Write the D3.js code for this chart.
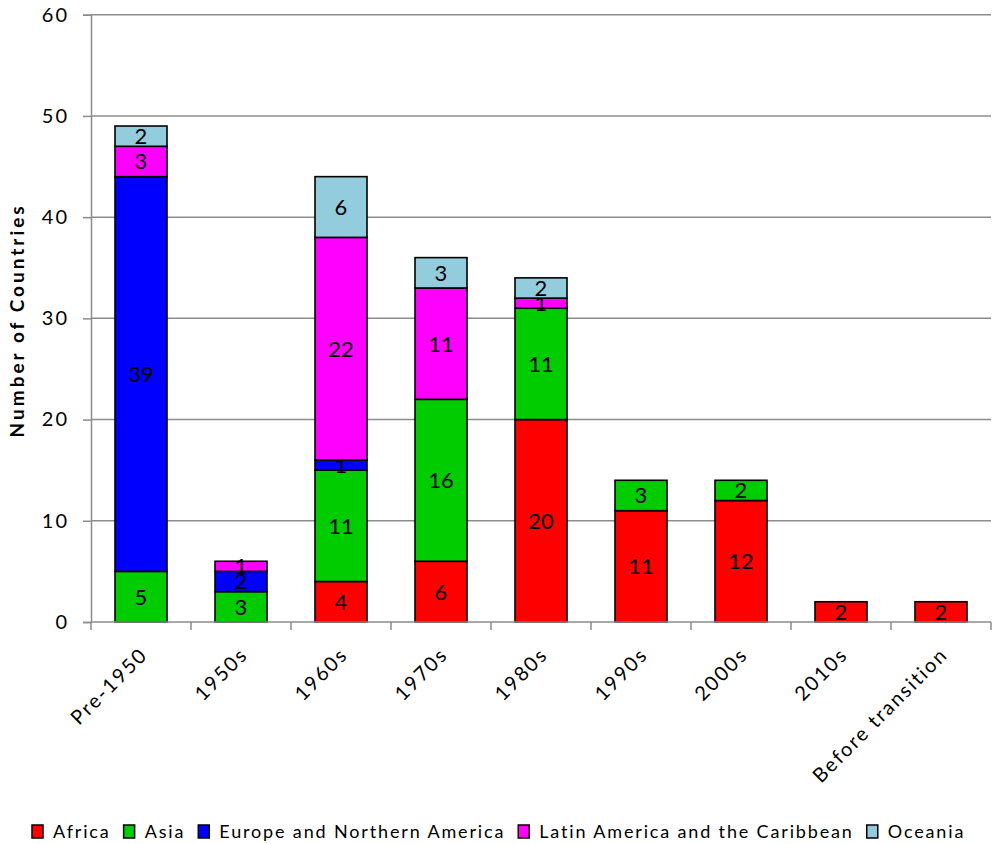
<!DOCTYPE html>
<html>
<head>
<meta charset="utf-8">
<script src="https://cdn.jsdelivr.net/npm/d3@7"></script>
<style>
  html, body { margin: 0; padding: 0; background: #fff; }
  svg { display: block; font-family: Lato, "Open Sans", sans-serif; }
</style>
</head>
<body>
<svg id="chart" width="997" height="844"></svg>
<script>
// Transition period categories
const categories = ["Pre-1950", "1950s", "1960s", "1970s", "1980s", "1990s", "2000s", "2010s", "Before transition"];
// Regions (stack order, bottom to top)
const regions = ["Africa", "Asia", "Europe and Northern America", "Latin America and the Caribbean", "Oceania"];
const regionColors = ["#ff0000", "#00cc00", "#0000ff", "#ff00ff", "#93cddd"];
// Number of countries per region, one value per category
const africa   = [0, 0, 4, 6, 20, 11, 12, 2, 2];
const asia     = [5, 3, 11, 16, 11, 3, 2, 0, 0];
const europe   = [39, 2, 1, 0, 0, 0, 0, 0, 0];
const latam    = [3, 1, 22, 11, 1, 0, 0, 0, 0];
const oceania  = [2, 0, 6, 3, 2, 0, 0, 0, 0];
const yTicks = [0, 10, 20, 30, 40, 50, 60];

const seriesValues = [africa, asia, europe, latam, oceania];
const rows = categories.map((c, i) => {
  const r = { category: c };
  regions.forEach((reg, k) => { r[reg] = seriesValues[k][i]; });
  return r;
});

const svg = d3.select("#chart");
const margin = { left: 91, right: 6, top: 14.7, bottom: 222 };
const W = 997, H = 844;
const gridColor = "#8c8c8c";

const x = d3.scaleBand().domain(categories).range([margin.left, W - margin.right]).paddingInner(0.48).paddingOuter(0.24);
const y = d3.scaleLinear().domain([0, 60]).range([H - margin.bottom, margin.top]);

// Gridlines
svg.append("g")
  .selectAll("line")
  .data(yTicks.filter(t => t > 0))
  .join("line")
  .attr("x1", margin.left).attr("x2", W - margin.right)
  .attr("y1", d => y(d)).attr("y2", d => y(d))
  .attr("stroke", gridColor).attr("stroke-width", 1.5);

const series = d3.stack().keys(regions)(rows);

const layers = svg.append("g").selectAll("g")
  .data(series)
  .join("g")
  .attr("fill", (d, i) => regionColors[i]);

layers.selectAll("rect")
  .data(d => d.filter(s => s[1] - s[0] > 0))
  .join("rect")
  .attr("x", d => x(d.data.category))
  .attr("width", x.bandwidth())
  .attr("y", d => y(d[1]))
  .attr("height", d => y(d[0]) - y(d[1]))
  .attr("stroke", "#000")
  .attr("stroke-width", 1.6);

// Value labels centred in each segment
layers.selectAll("text")
  .data(d => d.filter(s => s[1] - s[0] > 0))
  .join("text")
  .attr("x", d => x(d.data.category) + x.bandwidth() / 2)
  .attr("y", d => y((d[0] + d[1]) / 2))
  .attr("dy", "0.36em")
  .attr("text-anchor", "middle")
  .attr("fill", "#000")
  .attr("font-size", 22)
  .text(d => d[1] - d[0]);

// Y axis
const yAxis = svg.append("g")
  .attr("transform", `translate(${margin.left},0)`)
  .call(d3.axisLeft(y).tickValues(yTicks).tickSize(8).tickPadding(14));
yAxis.select(".domain").attr("stroke", gridColor).attr("stroke-width", 1.5);
yAxis.selectAll(".tick line").attr("stroke", gridColor).attr("stroke-width", 1.5);
yAxis.selectAll(".tick text")
  .attr("font-size", 20).attr("fill", "#000")
  .attr("font-family", "Lato, sans-serif").attr("letter-spacing", 2);

// X axis with ticks between categories
const x0 = y(0);
const xAxisG = svg.append("g");
xAxisG.append("line")
  .attr("x1", margin.left).attr("x2", W - margin.right)
  .attr("y1", x0).attr("y2", x0)
  .attr("stroke", gridColor).attr("stroke-width", 1.5);
const boundaries = categories.map(c => x(c) - x.step() * x.paddingInner() / 2)
  .concat([x(categories[categories.length - 1]) + x.bandwidth() + x.step() * x.paddingInner() / 2]);
xAxisG.selectAll("line.tk")
  .data(boundaries)
  .join("line")
  .attr("class", "tk")
  .attr("x1", d => d).attr("x2", d => d)
  .attr("y1", x0).attr("y2", x0 + 8)
  .attr("stroke", gridColor).attr("stroke-width", 1.5);

xAxisG.selectAll("text")
  .data(categories)
  .join("text")
  .attr("transform", d => `translate(${x(d) + x.bandwidth() / 2 + 8},${x0 + 34}) rotate(-45)`)
  .attr("text-anchor", "end")
  .attr("font-size", 20)
  .attr("letter-spacing", 2)
  .attr("fill", "#000")
  .text(d => d);

// Y axis title
svg.append("text")
  .attr("transform", `translate(24,${(y(0) + y(60)) / 2 + 2}) rotate(-90)`)
  .attr("text-anchor", "middle")
  .attr("font-size", 19)
  .attr("font-weight", "bold")
  .attr("letter-spacing", 3)
  .attr("fill", "#000")
  .text("Number of Countries");

// Legend
const legend = svg.append("g").attr("transform", "translate(0,838)");
let lx = 32;
regions.forEach((r, i) => {
  const g = legend.append("g").attr("transform", `translate(${lx},0)`);
  g.append("rect").attr("x", 0).attr("y", -13).attr("width", 11).attr("height", 13)
    .attr("fill", regionColors[i]).attr("stroke", "#000").attr("stroke-width", 1.5);
  const t = g.append("text").attr("x", 21)
    .attr("font-size", 18).attr("letter-spacing", 1.85).attr("fill", "#000").text(r);
  lx += 21 + t.node().getComputedTextLength() + 13;
});
</script>
</body>
</html>
